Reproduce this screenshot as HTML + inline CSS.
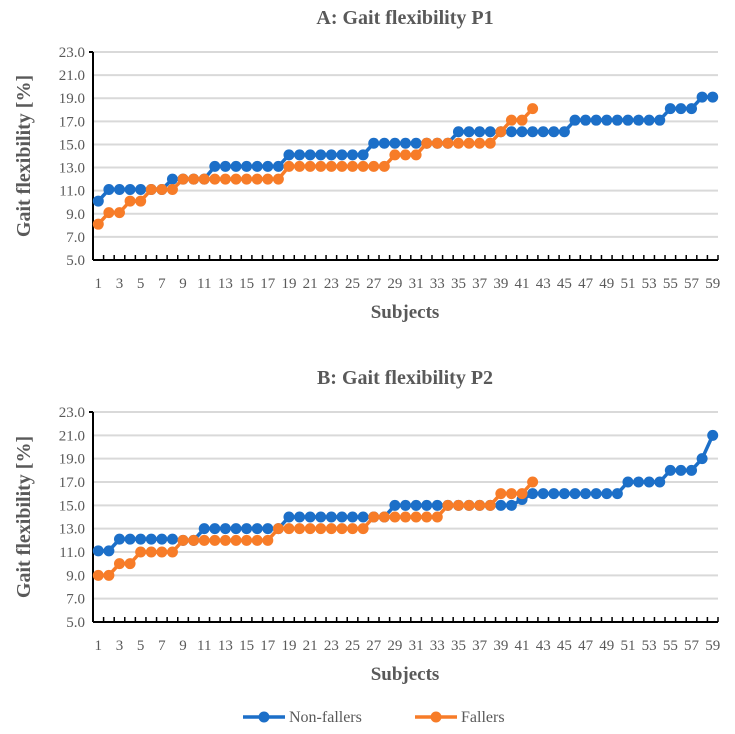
<!DOCTYPE html>
<html><head><meta charset="utf-8"><style>
body{margin:0;background:#fff;width:735px;height:734px;overflow:hidden}
svg{display:block;font-family:"Liberation Serif",serif}
</style></head><body>
<svg id="s" width="735" height="734"></svg>
<script>
const categories = Array.from({length:59},(_,i)=>String(i+1));
const yTicks = [5,7,9,11,13,15,17,19,21,23];
const aNonFallers = [10.1,11.1,11.1,11.1,11.1,11.1,11.1,12.0,12.0,12.0,12.0,13.1,13.1,13.1,13.1,13.1,13.1,13.1,14.1,14.1,14.1,14.1,14.1,14.1,14.1,14.1,15.1,15.1,15.1,15.1,15.1,15.1,15.1,15.1,16.1,16.1,16.1,16.1,16.1,16.1,16.1,16.1,16.1,16.1,16.1,17.1,17.1,17.1,17.1,17.1,17.1,17.1,17.1,17.1,18.1,18.1,18.1,19.1,19.1];
const aFallers = [8.1,9.1,9.1,10.1,10.1,11.1,11.1,11.1,12.0,12.0,12.0,12.0,12.0,12.0,12.0,12.0,12.0,12.0,13.1,13.1,13.1,13.1,13.1,13.1,13.1,13.1,13.1,13.1,14.1,14.1,14.1,15.1,15.1,15.1,15.1,15.1,15.1,15.1,16.1,17.1,17.1,18.1];
const bNonFallers = [11.1,11.1,12.1,12.1,12.1,12.1,12.1,12.1,12.0,12.0,13.0,13.0,13.0,13.0,13.0,13.0,13.0,13.0,14.0,14.0,14.0,14.0,14.0,14.0,14.0,14.0,14.0,14.0,15.0,15.0,15.0,15.0,15.0,15.0,15.0,15.0,15.0,15.0,15.0,15.0,15.5,16.0,16.0,16.0,16.0,16.0,16.0,16.0,16.0,16.0,17.0,17.0,17.0,17.0,18.0,18.0,18.0,19.0,21.0];
const bFallers = [9.0,9.0,10.0,10.0,11.0,11.0,11.0,11.0,12.0,12.0,12.0,12.0,12.0,12.0,12.0,12.0,12.0,13.0,13.0,13.0,13.0,13.0,13.0,13.0,13.0,13.0,14.0,14.0,14.0,14.0,14.0,14.0,14.0,15.0,15.0,15.0,15.0,15.0,16.0,16.0,16.0,17.0];

const NS="http://www.w3.org/2000/svg";
const svg=document.getElementById('s');
function mk(tag,attrs,parent){const e=document.createElementNS(NS,tag);for(const k in attrs)e.setAttribute(k,attrs[k]);(parent||svg).appendChild(e);return e;}
const BLUE="#1c6fc8", ORANGE="#f77c28";

function chart(id,title,top,bottom,nf,fa){
  const g=mk('g',{});
  
  
  const x0=93,x1=718,step=(x1-x0)/categories.length;
  const xs=i=>x0+(i+0.5)*step;
  const ys=v=>bottom-(v-5)/18*(bottom-top);
  const t=mk('text',{x:405,y:top-28,'text-anchor':'middle','font-size':20,'font-weight':'bold',fill:'#595959'},g);
  t.textContent=title;
  
  
  yTicks.forEach(v=>{
    if(v>5){const l=mk('line',{x1:x0,x2:x1,y1:ys(v),y2:ys(v),stroke:'#d9d9d9','stroke-width':2},g);
    
    }
    const tx=mk('text',{x:x0-8,y:ys(v)+5,'text-anchor':'end','font-size':15,fill:'#595959'},g);
    tx.textContent=v.toFixed(1);
    
    
  });
  mk('line',{x1:x0,x2:x0,y1:top,y2:bottom,stroke:'#000','stroke-width':2},g);
  mk('line',{x1:x0-4,x2:x0,y1:top,y2:top,stroke:'#000','stroke-width':2},g);
  const ax=mk('line',{x1:x0,x2:x1,y1:bottom,y2:bottom,stroke:'#000','stroke-width':2},g);
  
  
  for(let i=1;i<=categories.length;i++){mk('line',{x1:x0+i*step,x2:x0+i*step,y1:bottom,y2:bottom-5,stroke:'#000','stroke-width':1.5},g);}
  categories.forEach((c,i)=>{if(i%2===0){const tx=mk('text',{x:xs(i),y:bottom+28,'text-anchor':'middle','font-size':15,fill:'#595959'},g);tx.textContent=c;
    
    }});
  const xt=mk('text',{x:405,y:bottom+58,'text-anchor':'middle','font-size':19,'font-weight':'bold',fill:'#595959'},g);
  xt.textContent='Subjects';
  
  
  const cy=(top+bottom)/2;
  const yt=mk('text',{x:0,y:0,transform:`translate(30,${cy}) rotate(-90)`,'text-anchor':'middle','font-size':20,'font-weight':'bold',fill:'#595959'},g);
  yt.textContent='Gait flexibility [%]';
  
  
  [[nf,BLUE,'non-fallers'],[fa,ORANGE,'fallers']].forEach(([d,col,nm])=>{
    const p=mk('polyline',{points:d.map((v,i)=>xs(i)+','+ys(v)).join(' '),fill:'none',stroke:col,'stroke-width':3.5},g);
    
    
    d.forEach((v,i)=>{const c=mk('circle',{cx:xs(i),cy:ys(v),r:5.5,fill:col},g);
      
      });
  });
}
chart('chart-a','A: Gait flexibility P1',52,260,aNonFallers,aFallers);
chart('chart-b','B: Gait flexibility P2',412,622,bNonFallers,bFallers);

const lg=mk('g',{});


[[BLUE,'Non-fallers',243],[ORANGE,'Fallers',415]].forEach(([col,txt,x])=>{
  const e=mk('g',{},lg);
  
  
  mk('line',{x1:x,x2:x+42,y1:717,y2:717,stroke:col,'stroke-width':3.5},e);
  mk('circle',{cx:x+21,cy:717,r:5.5,fill:col},e);
  const t=mk('text',{x:x+46,y:722,'font-size':16,fill:'#595959'},e);
  t.textContent=txt;
});
</script>
</body></html>
